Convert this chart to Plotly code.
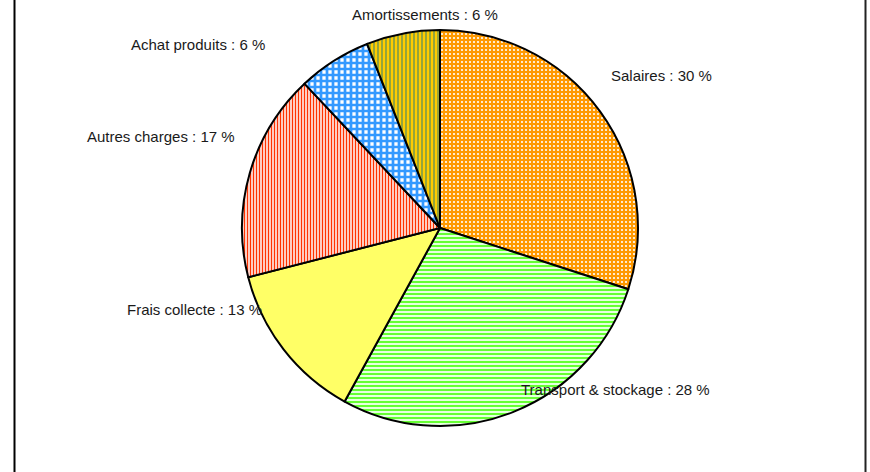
import plotly.graph_objects as go

# Répartition des charges
categories = ["Salaires", "Transport & stockage", "Frais collecte",
              "Autres charges", "Achat produits", "Amortissements"]
values = [30, 28, 13, 17, 6, 6]

W, H = 870, 472

# Hatch styles per slice
fg_colors = ["#FFFFFF", "#66FF33", "#FFFF66", "#FF3300", "#3399FF", "#4E8A62"]
bg_colors = ["#FF9900", "#E6FFE0", "#FFFF66", "#FFFFFF", "#FFFFFF", "#FFCC00"]
shapes_pat = [".", "-", "", "|", "+", "|"]
sizes_pat = [4, 4, 4, 3, 6, 4]
solid_pat = [0.22, 0.5, 0.0, 0.5, 0.7, 0.3]

# Pie center and radius in pixels
cx, cy, r = 440, 228, 198

fig = go.Figure(go.Pie(
    labels=categories,
    values=values,
    sort=False,
    direction="clockwise",
    rotation=0,
    textinfo="none",
    hoverinfo="label+percent",
    marker=dict(
        colors=bg_colors,
        line=dict(color="#000000", width=2),
        pattern=dict(
            shape=shapes_pat,
            fgcolor=fg_colors,
            bgcolor=bg_colors,
            size=sizes_pat,
            solidity=solid_pat,
            fillmode="replace",
        ),
    ),
    domain=dict(x=[(cx - r) / W, (cx + r) / W],
                y=[1 - (cy + r) / H, 1 - (cy - r) / H]),
    showlegend=False,
))

# Label anchor points (pixels)
label_xy = [(661, 75), (615, 389), (194, 309), (161, 136), (198, 45), (425, 14)]

annotations = []
for name, val, (lx, ly) in zip(categories, values, label_xy):
    annotations.append(dict(
        x=lx / W, y=1 - ly / H, xref="paper", yref="paper",
        text=f"{name} : {val} %", showarrow=False,
        xanchor="center", yanchor="middle",
        font=dict(family="Liberation Sans, Arial, sans-serif", size=15, color="#1A1A1A"),
    ))

fig.update_layout(
    width=W, height=H,
    margin=dict(l=0, r=0, t=0, b=0),
    paper_bgcolor="#FFFFFF",
    plot_bgcolor="#FFFFFF",
    annotations=annotations,
    shapes=[
        dict(type="line", xref="paper", yref="paper", x0=14.5 / W, x1=14.5 / W, y0=0, y1=1,
             line=dict(color="#000000", width=2)),
        dict(type="line", xref="paper", yref="paper", x0=865.5 / W, x1=865.5 / W, y0=0, y1=1,
             line=dict(color="#222222", width=2)),
    ],
)

fig.write_html("out.html")
